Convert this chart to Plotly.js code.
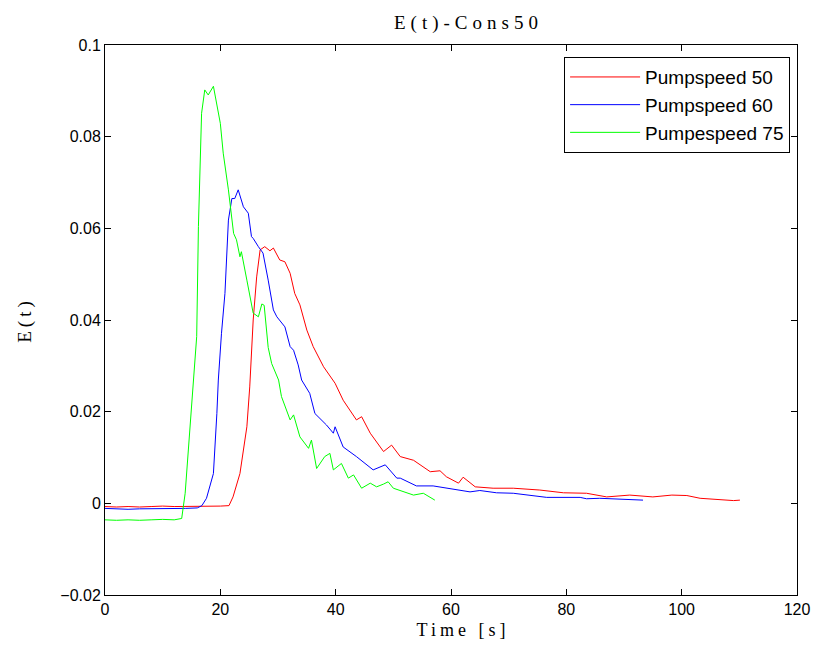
<!DOCTYPE html>
<html>
<head>
<meta charset="utf-8">
<script src="https://cdn.plot.ly/plotly-3.0.1.min.js"></script>
<style>
  html, body { margin: 0; padding: 0; background: #fff; }
  #chart { width: 819px; height: 653px; }
  /* spaced-out serif lettering for the titles */
  #chart .gtitle { letter-spacing: 5px; }
  #chart .xtitle { letter-spacing: 4px; transform: translateX(12px); }
  #chart .ytitle { letter-spacing: 4px; }
</style>
</head>
<body>
<div id="chart"></div>
<script>
// Residence time distribution E(t) for three pump speeds
const t50 = [0, 2, 4, 6, 8, 10, 12, 14, 16, 18, 20, 21.5, 22.2, 23.4, 24.6, 25.1, 25.7, 26.3, 26.9, 27.7, 28.6, 29.2, 30.3, 31.2, 32.1, 32.9, 33.8, 35, 36.1, 37.9, 39.9, 41.3, 43.6, 44.5, 46, 48.3, 49.7, 51.2, 53.5, 56.4, 58.1, 59.2, 61.3, 62.1, 64.2, 67.3, 70.8, 75.4, 79.5, 83.5, 87, 91, 95, 98.3, 100.9, 103.2, 106, 109, 110.1];
const e50 = [-0.0007, -0.0008, -0.0007, -0.0008, -0.0007, -0.0006, -0.0007, -0.0007, -0.0006, -0.0007, -0.0006, -0.0005, 0.0014, 0.0065, 0.0167, 0.0254, 0.040, 0.0494, 0.0553, 0.056, 0.0551, 0.0557, 0.0531, 0.0527, 0.0502, 0.0458, 0.0433, 0.0378, 0.0342, 0.0298, 0.0262, 0.0225, 0.0182, 0.0189, 0.0153, 0.0113, 0.0127, 0.0102, 0.0094, 0.0069, 0.0071, 0.0058, 0.0044, 0.0057, 0.0036, 0.0033, 0.0033, 0.0029, 0.0023, 0.0022, 0.0014, 0.0018, 0.0014, 0.0018, 0.0017, 0.0011, 0.0009, 0.0006, 0.0007];

const t60 = [0, 2, 4, 6, 8, 10, 12, 14, 16, 16.8, 17.6, 18.8, 19.4, 19.65, 20.2, 20.8, 21.4, 22, 22.5, 23.1, 24, 24.85, 25.4, 25.7, 26.6, 27.4, 28.3, 29.2, 29.8, 31.2, 32.1, 32.7, 33.5, 34.1, 35.5, 36.4, 38.4, 39.6, 39.9, 41.3, 43.6, 46.5, 48.6, 50.6, 51.2, 54, 56.9, 59.2, 63.3, 65, 67.9, 70.8, 76.6, 82.4, 83.5, 85.8, 91, 93.3];
const e60 = [-0.0011, -0.0012, -0.0013, -0.0012, -0.0012, -0.0011, -0.0011, -0.0011, -0.0010, -0.0005, 0.0011, 0.0065, 0.0196, 0.0269, 0.0371, 0.0458, 0.0618, 0.0665, 0.0665, 0.0684, 0.0647, 0.0633, 0.0582, 0.0578, 0.056, 0.0546, 0.0487, 0.0422, 0.0407, 0.0385, 0.0342, 0.0334, 0.0302, 0.0269, 0.024, 0.0196, 0.0171, 0.0153, 0.0167, 0.0123, 0.0102, 0.0073, 0.0084, 0.0055, 0.0055, 0.0038, 0.0038, 0.0033, 0.0025, 0.0028, 0.0023, 0.0022, 0.0013, 0.0013, 0.001, 0.0011, 0.0009, 0.0007];

const t75 = [0, 2, 4, 6, 8, 10, 12, 13.3, 13.9, 14.7, 15.3, 15.9, 16.2, 16.75, 17.3, 17.9, 18.8, 19.4, 20, 20.5, 21.4, 22.3, 22.8, 23.4, 23.65, 24.6, 25.7, 26.6, 27.2, 27.6, 28.3, 28.9, 30.1, 30.6, 32.1, 32.7, 33.8, 35.3, 35.8, 36.7, 38.1, 39, 39.6, 41, 42.2, 43.1, 44.5, 46, 47.1, 48.3, 49.1, 50, 51.7, 53.5, 55.2, 57.2];
const e75 = [-0.0036, -0.0037, -0.0036, -0.0037, -0.0036, -0.0035, -0.0036, -0.0033, 0.0022, 0.016, 0.0269, 0.0364, 0.0604, 0.0851, 0.0902, 0.0891, 0.091, 0.0865, 0.0829, 0.0764, 0.0684, 0.0589, 0.0575, 0.0538, 0.0549, 0.0487, 0.0415, 0.0407, 0.0435, 0.0432, 0.034, 0.0305, 0.0269, 0.0233, 0.0182, 0.0193, 0.0145, 0.012, 0.0138, 0.0076, 0.0102, 0.0109, 0.0073, 0.0087, 0.0055, 0.0062, 0.0033, 0.0044, 0.0036, 0.0042, 0.0047, 0.0033, 0.0025, 0.0018, 0.0022, 0.0007];

const seriesNames = ['Pumpspeed 50', 'Pumpspeed 60', 'Pumpespeed 75'];
const seriesColors = ['#ff0000', '#0000ff', '#00ff00'];
const xs = [t50, t60, t75];
const ys = [e50, e60, e75];

const traces = xs.map((x, i) => ({
  x: x,
  y: ys[i],
  type: 'scatter',
  mode: 'lines',
  name: seriesNames[i],
  line: { color: seriesColors[i], width: 1 }
}));

const sans = 'Liberation Sans, Arial, sans-serif';
const serif = 'Liberation Serif, DejaVu Serif, serif';

const axisCommon = {
  showline: true,
  mirror: 'ticks',
  linecolor: '#000',
  linewidth: 1,
  ticks: 'inside',
  ticklen: 6,
  tickcolor: '#000',
  showgrid: false,
  zeroline: false,
  tickfont: { family: sans, size: 16, color: '#000' }
};

const layout = {
  width: 819,
  height: 653,
  margin: { l: 105, r: 22, t: 45, b: 58 },
  paper_bgcolor: '#fff',
  plot_bgcolor: '#fff',
  title: {
    text: 'E(t)-Cons50',
    font: { family: serif, size: 19, color: '#000' },
    x: 0.572, xanchor: 'center',
    y: 0.966, yanchor: 'middle'
  },
  xaxis: Object.assign({}, axisCommon, {
    range: [0, 120],
    dtick: 20,
    tick0: 0,
    title: { text: 'Time [s]', font: { family: serif, size: 18, color: '#000' }, standoff: 6 }
  }),
  yaxis: Object.assign({}, axisCommon, {
    range: [-0.02, 0.1],
    dtick: 0.02,
    tick0: 0,
    title: { text: 'E(t)', font: { family: serif, size: 19, color: '#000' }, standoff: 23 }
  }),
  showlegend: true,
  legend: {
    x: 0.99, xanchor: 'right',
    y: 0.978, yanchor: 'top',
    bgcolor: '#fff',
    bordercolor: '#000',
    borderwidth: 1,
    itemwidth: 70,
    font: { family: sans, size: 19, color: '#000' },
    tracegroupgap: 0
  }
};

Plotly.newPlot('chart', traces, layout, { displayModeBar: false, staticPlot: true });
</script>
</body>
</html>
